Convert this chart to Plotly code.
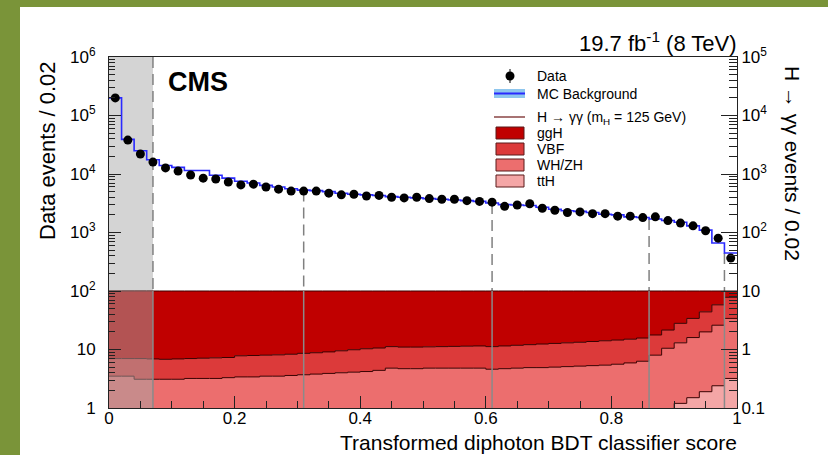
import numpy as np
import plotly.graph_objects as go

# ---------------- data ----------------
bin_edges = np.round(np.arange(0, 1.0001, 0.02), 2)          # 50 bins of width 0.02
bin_centers = np.round(bin_edges[:-1] + 0.01, 3)

data_events = [2.0e5, 3.8e4, 2.2e4, 1.6e4, 1.27e4, 1.12e4, 9.6e3, 8.5e3, 8.2e3, 7.3e3,
               6.5e3, 6.7e3, 6.0e3, 5.5e3, 5.1e3, 5.1e3, 5.1e3, 4.7e3, 4.4e3, 4.5e3,
               4.2e3, 4.3e3, 4.0e3, 3.9e3, 4.0e3, 3.8e3, 3.7e3, 3.7e3, 3.5e3, 3.4e3,
               3.3e3, 2.8e3, 2.95e3, 3.1e3, 2.6e3, 2.4e3, 2.2e3, 2.25e3, 2.1e3, 2.1e3,
               1.9e3, 1.9e3, 1.8e3, 1.85e3, 1.6e3, 1.45e3, 1.3e3, 1.07e3, 800, 365]

mc_background = [2.0e5, 3.9e4, 2.5e4, 1.75e4, 1.4e4, 1.3e4, 1.15e4, 1.15e4, 9.5e3, 8.5e3,
                 7.5e3, 7.0e3, 6.4e3, 6.0e3, 5.6e3, 5.3e3, 5.2e3, 5.0e3, 4.7e3, 4.5e3,
                 4.4e3, 4.3e3, 4.1e3, 4.0e3, 3.9e3, 3.8e3, 3.7e3, 3.6e3, 3.5e3, 3.4e3,
                 3.2e3, 3.0e3, 2.95e3, 2.9e3, 2.7e3, 2.5e3, 2.35e3, 2.3e3, 2.2e3, 2.05e3,
                 2.0e3, 1.85e3, 1.8e3, 1.7e3, 1.6e3, 1.5e3, 1.3e3, 1.1e3, 660, 445]

tth = [0.05, 0.05, 0.05, 0.05, 0.05, 0.05, 0.05, 0.05, 0.05, 0.05,
       0.06, 0.06, 0.06, 0.06, 0.06, 0.06, 0.06, 0.06, 0.06, 0.06,
       0.06, 0.06, 0.06, 0.06, 0.06, 0.06, 0.06, 0.06, 0.06, 0.06,
       0.06, 0.06, 0.06, 0.06, 0.06, 0.06, 0.06, 0.06, 0.06, 0.06,
       0.07, 0.07, 0.07, 0.08, 0.09, 0.12, 0.15, 0.19, 0.24, 0.32]

whzh = [0.30, 0.30, 0.26, 0.26, 0.26, 0.26, 0.27, 0.27, 0.27, 0.28,
        0.28, 0.28, 0.29, 0.29, 0.30, 0.31, 0.32, 0.33, 0.34, 0.35,
        0.36, 0.38, 0.42, 0.41, 0.41, 0.42, 0.42, 0.42, 0.42, 0.42,
        0.40, 0.41, 0.42, 0.43, 0.43, 0.44, 0.45, 0.46, 0.47, 0.48,
        0.49, 0.52, 0.56, 0.72, 0.96, 1.18, 1.45, 1.81, 2.36, 3.08]

vbf = [0.35, 0.35, 0.39, 0.38, 0.37, 0.38, 0.38, 0.39, 0.40, 0.40,
       0.44, 0.45, 0.45, 0.46, 0.47, 0.49, 0.50, 0.52, 0.55, 0.58,
       0.61, 0.62, 0.64, 0.63, 0.63, 0.63, 0.64, 0.65, 0.66, 0.67,
       0.66, 0.68, 0.70, 0.72, 0.75, 0.77, 0.79, 0.81, 0.84, 0.87,
       0.89, 0.91, 0.94, 0.97, 1.10, 1.50, 1.80, 2.40, 3.20, 4.40]

ggh = [9.30, 9.30, 9.30, 9.31, 9.32, 9.31, 9.30, 9.29, 9.28, 9.27,
       9.22, 9.21, 9.20, 9.19, 9.17, 9.14, 9.12, 9.09, 9.05, 9.01,
       8.97, 8.94, 8.88, 8.90, 8.90, 8.89, 8.88, 8.87, 8.86, 8.85,
       8.88, 8.85, 8.82, 8.79, 8.76, 8.73, 8.70, 8.67, 8.63, 8.59,
       8.55, 8.50, 8.43, 8.23, 7.85, 7.20, 6.60, 5.60, 4.20, 2.20]

category_boundaries = [0.07, 0.31, 0.61, 0.86, 0.98]

x_ticks = [0, 0.2, 0.4, 0.6, 0.8, 1]
x_tick_labels = ["0", "0.2", "0.4", "0.6", "0.8", "1"]
left_ticks = [1, 10, 1e2, 1e3, 1e4, 1e5, 1e6]
left_tick_labels = ["1", "10", "10<sup>2</sup>", "10<sup>3</sup>", "10<sup>4</sup>",
                    "10<sup>5</sup>", "10<sup>6</sup>"]
right_ticks = [0.1, 1, 10, 1e2, 1e3, 1e4, 1e5]
right_tick_labels = ["0.1", "1", "10", "10<sup>2</sup>", "10<sup>3</sup>",
                     "10<sup>4</sup>", "10<sup>5</sup>"]

process_names = ["ttH", "WH/ZH", "VBF", "ggH"]
process_colors = ["#f4a6a6", "#ec6e6e", "#dc3a3a", "#c00000"]

# ---------------- geometry helpers ----------------
W, H = 828, 455
L, R, T, B = 109, 91, 57, 47
PW, PH = W - L - R, H - T - B
def px(x): return (x - L) / PW
def py(y): return (H - B - y) / PH

FONT = "Liberation Sans, Arial, Helvetica, sans-serif"
y2_min = 0.1

def step(vals):
    return list(vals) + [vals[-1]]

fig = go.Figure()

# ---------- signal stack (right axis) ----------
fig.add_trace(go.Scatter(x=bin_edges, y=[y2_min] * len(bin_edges), yaxis="y2",
                         mode="lines", line=dict(width=0, shape="hv"),
                         showlegend=False, hoverinfo="skip"))
cum = np.zeros(len(tth))
for name, vals, col in zip(process_names, [tth, whzh, vbf, ggh], process_colors):
    cum = cum + np.array(vals)
    fig.add_trace(go.Scatter(x=bin_edges, y=step(cum), yaxis="y2", mode="lines",
                             line=dict(color="#3a0000", width=1, shape="hv"),
                             fill="tonexty", fillcolor=col, name=name,
                             showlegend=False))
signal_top = float(cum.max())

# grey overlay of the excluded region over the signal stack
b0 = category_boundaries[0]
fig.add_trace(go.Scatter(x=[0, b0, b0, 0, 0], y=[y2_min, y2_min, signal_top, signal_top, y2_min],
                         yaxis="y2", mode="lines", fill="toself",
                         fillcolor="rgba(165,165,165,0.5)", line=dict(width=0),
                         showlegend=False, hoverinfo="skip"))
# solid grey boundary lines inside the signal region
for b in category_boundaries:
    fig.add_trace(go.Scatter(x=[b, b], y=[y2_min, signal_top], yaxis="y2", mode="lines",
                             line=dict(color="#8a8a8a", width=1.5),
                             showlegend=False, hoverinfo="skip"))

# ---------- background region (left axis) ----------
for i, b in enumerate(category_boundaries):
    k = min(int(round(b / 0.02)), len(mc_background) - 1)
    top = 1e6 if i == 0 else min(mc_background[k - 1], mc_background[k])
    fig.add_trace(go.Scatter(x=[b, b], y=[top, signal_top * 10], mode="lines",
                             line=dict(color="#808080", width=1.5, dash="11px,6px"),
                             showlegend=False, hoverinfo="skip"))

fig.add_trace(go.Scatter(x=bin_edges, y=step(mc_background), mode="lines",
                         line=dict(color="#2a2aff", width=1.6, shape="hv"),
                         name="MC Background", showlegend=False))
fig.add_trace(go.Scatter(x=bin_centers, y=data_events, mode="markers",
                         marker=dict(color="black", size=9),
                         name="Data", showlegend=False))

# ---------- shapes ----------
shapes = [
    dict(type="rect", xref="paper", yref="paper", x0=px(0), x1=px(20), y0=py(455), y1=py(0),
         fillcolor="#7a9439", line=dict(width=0), layer="below"),
    dict(type="rect", xref="paper", yref="paper", x0=px(0), x1=px(828), y0=py(7), y1=py(0),
         fillcolor="#7a9439", line=dict(width=0), layer="below"),
    dict(type="rect", xref="x", yref="paper", x0=0, x1=b0, y0=0, y1=1,
         fillcolor="#d4d4d4", line=dict(width=0), layer="below"),
]

# manual legend
lx0, lx1 = 494, 525
shapes += [
    dict(type="circle", xref="paper", yref="paper", x0=px(505.5), x1=px(514.5),
         y0=py(80.5), y1=py(71.5), fillcolor="black", line=dict(width=0)),
    dict(type="line", xref="paper", yref="paper", x0=px(510), x1=px(510),
         y0=py(83), y1=py(69), line=dict(color="black", width=1)),
    dict(type="rect", xref="paper", yref="paper", x0=px(lx0), x1=px(lx1),
         y0=py(98), y1=py(89), fillcolor="#8ec6ee", line=dict(width=0)),
    dict(type="line", xref="paper", yref="paper", x0=px(lx0), x1=px(lx1),
         y0=py(93.5), y1=py(93.5), line=dict(color="#2a2aff", width=2)),
    dict(type="line", xref="paper", yref="paper", x0=px(lx0), x1=px(lx1),
         y0=py(117), y1=py(117), line=dict(color="#8a4545", width=1.5)),
]
leg_boxes = [(127, "ggH", "#c00000"), (143, "VBF", "#dc3a3a"),
             (159, "WH/ZH", "#ec6e6e"), (175, "ttH", "#f4a6a6")]
for ytop, name, col in leg_boxes:
    shapes.append(dict(type="rect", xref="paper", yref="paper", x0=px(496), x1=px(524),
                       y0=py(ytop + 12), y1=py(ytop), fillcolor=col,
                       line=dict(color="#5a1a1a", width=1)))

annotations = []
def txt(text, x, y, size, xanchor="left", angle=0, yanchor="middle"):
    annotations.append(dict(text=text, x=px(x), y=py(y), xref="paper", yref="paper",
                            xanchor=xanchor, yanchor=yanchor, showarrow=False,
                            textangle=angle, font=dict(family=FONT, size=size, color="black")))

leg_font = 14
txt("Data", 535, 76, leg_font)
txt("MC Background", 535, 94, leg_font)
txt("H → γγ (m<sub>H</sub> = 125 GeV)", 535, 118, leg_font)
for ytop, name, col in leg_boxes:
    txt(name, 535, ytop + 6, leg_font)

txt("<b>CMS</b>", 166, 82, 27)
txt("19.7 fb<sup>-1</sup> (8 TeV)", 739, 42, 22, xanchor="right")
txt("Data events / 0.02", 47, 150, 22, xanchor="center", angle=-90)
txt("H → γγ events / 0.02", 793, 163, 21, xanchor="center", angle=90)
txt("Transformed diphoton BDT classifier score", 739, 442, 21, xanchor="right")

minor_left = [m * 10 ** k for k in range(0, 6) for m in range(2, 10)]
minor_right = [m * 10 ** k for k in range(-1, 5) for m in range(2, 10)]

fig.update_layout(
    width=W, height=H,
    margin=dict(l=L, r=R, t=T, b=B, pad=0),
    paper_bgcolor="white", plot_bgcolor="white",
    showlegend=False,
    shapes=shapes, annotations=annotations,
    font=dict(family=FONT, color="black"),
    xaxis=dict(range=[0, 1], tickvals=x_ticks, ticktext=x_tick_labels,
               ticks="inside", ticklen=12, tickcolor="#222", tickwidth=1,
               minor=dict(ticks="inside", ticklen=7, dtick=0.05, tick0=0, tickcolor="#222"),
               showline=True, linecolor="#222", linewidth=1, mirror=True,
               showgrid=False, zeroline=False, tickfont=dict(size=17),
               ticklabelstandoff=-5),
    yaxis=dict(type="log", range=[0, 6], tickvals=left_ticks, ticktext=left_tick_labels,
               ticks="inside", ticklen=12, tickcolor="#222",
               minor=dict(ticks="inside", ticklen=6, tickvals=minor_left, tickcolor="#222"),
               showline=True, linecolor="#222", linewidth=1,
               showgrid=False, zeroline=False, tickfont=dict(size=17),
               ticklabelstandoff=9),
    yaxis2=dict(type="log", range=[-1, 5], overlaying="y", side="right",
                tickvals=right_ticks, ticktext=right_tick_labels,
                ticks="inside", ticklen=16, tickcolor="#222",
                minor=dict(ticks="inside", ticklen=8, tickvals=minor_right, tickcolor="#222"),
                showline=True, linecolor="#222", linewidth=1,
                showgrid=False, zeroline=False, tickfont=dict(size=17)),
)

fig.write_html("out.html", config={"displayModeBar": False},
               post_script="document.body.style.margin='0';")
